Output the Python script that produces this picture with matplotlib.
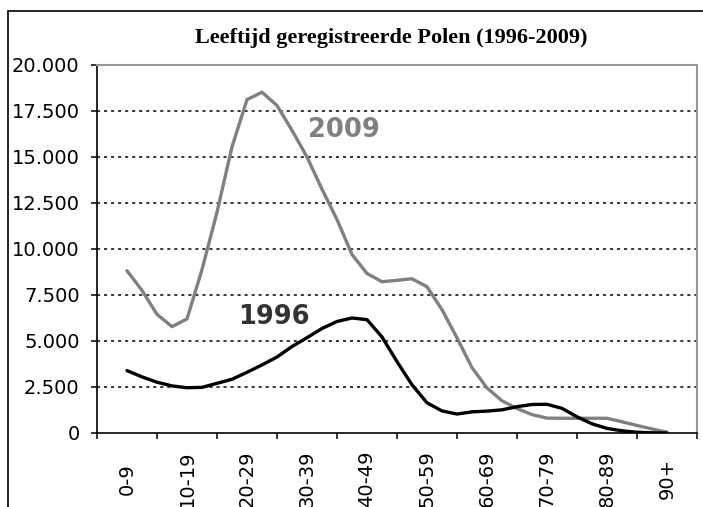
import matplotlib
matplotlib.use("Agg")
import matplotlib.pyplot as plt
from matplotlib.patches import Rectangle

categories = ["0-9", "10-19", "20-29", "30-39", "40-49", "50-59", "60-69", "70-79", "80-89", "90+"]

# positions along the category axis (category index, 4 samples per category)
positions = [0, 0.25, 0.5, 0.75, 1, 1.25, 1.5, 1.75, 2, 2.25, 2.5, 2.75,
             3, 3.25, 3.5, 3.75, 4, 4.25, 4.5, 4.75, 5, 5.25, 5.5, 5.75,
             6, 6.25, 6.5, 6.75, 7, 7.25, 7.5, 7.75, 8, 8.25, 8.5, 8.75, 9]

values_2009 = [8820, 7750, 6450, 5780, 6200, 8880, 12000, 15550, 18120, 18520,
               17800, 16450, 15000, 13250, 11600, 9700, 8670, 8220, 8300, 8380,
               7950, 6700, 5170, 3550, 2450, 1750, 1330, 1000, 810, 800,
               800, 800, 800, 610, 410, 220, 40]

values_1996 = [3390, 3050, 2760, 2560, 2460, 2480, 2700, 2920, 3300, 3700,
               4130, 4700, 5180, 5680, 6060, 6250, 6160, 5220, 3880, 2620,
               1640, 1200, 1030, 1150, 1190, 1260, 1430, 1550, 1560, 1340,
               880, 500, 250, 120, 40, 10, 0]

yticks = [0, 2500, 5000, 7500, 10000, 12500, 15000, 17500, 20000]
ytick_labels = ["0", "2.500", "5.000", "7.500", "10.000", "12.500", "15.000", "17.500", "20.000"]

W, H = 703, 507
fig = plt.figure(figsize=(W / 100, H / 100), dpi=100)
fig.patch.set_facecolor("white")

# outer chart border
fig.patches.append(Rectangle((8 / W, -0.05), 1.1, 1 - 11 / H + 0.05,
                             transform=fig.transFigure, fill=False,
                             edgecolor="black", linewidth=1.2))

ax = fig.add_axes([97 / W, 1 - 433 / H, 600 / W, 368 / H])
ax.set_xlim(-0.5, 9.5)
ax.set_ylim(0, 20000)

for y in yticks[1:]:
    ax.axhline(y, color="black", linewidth=1.1, linestyle=(0, (2, 2.6)), zorder=1)

ax.plot(positions, values_2009, color="#808080", linewidth=2.4, zorder=3,
        solid_joinstyle="round", solid_capstyle="round")
ax.plot(positions, values_1996, color="black", linewidth=2.4, zorder=4,
        solid_joinstyle="round", solid_capstyle="round")

ax.spines["left"].set_color("black")
ax.spines["bottom"].set_color("black")
ax.spines["left"].set_linewidth(1.2)
ax.spines["bottom"].set_linewidth(1.2)
ax.spines["top"].set_color("#999999")
ax.spines["right"].set_color("#999999")
ax.spines["top"].set_linewidth(1.5)
ax.spines["right"].set_linewidth(1.5)

ax.set_yticks(yticks)
ax.set_yticklabels(ytick_labels)
ax.tick_params(axis="y", direction="out", length=4.5, width=1.1, pad=8,
               labelsize=14, colors="black")

boundaries = [b - 0.5 for b in range(len(categories) + 1)]
ax.set_xticks(boundaries)
ax.set_xticklabels([])
ax.tick_params(axis="x", which="major", direction="out", length=4.5, width=1.1)
ax.set_xticks(list(range(len(categories))), minor=True)
ax.set_xticklabels(categories, minor=True, rotation=90, va="center", ha="center")
ax.tick_params(axis="x", which="minor", length=0, pad=33, labelsize=14)

ax.text(3.62, 16450, "2009", color="#808080", fontsize=18.5, fontweight="bold",
        ha="center", va="center", zorder=5)
ax.text(2.45, 6330, "1996", color="#333333", fontsize=18.5, fontweight="bold",
        ha="center", va="center", zorder=5)

fig.text(391 / W, 1 - 38 / H, "Leeftijd geregistreerde Polen (1996-2009)",
         ha="center", va="center", fontsize=16, fontweight="bold",
         family=["Liberation Serif", "DejaVu Serif"])

fig.savefig("out.png", dpi=100)
